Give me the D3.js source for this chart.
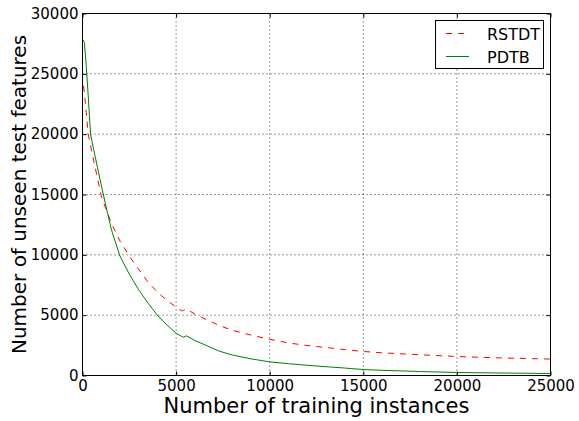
<!DOCTYPE html>
<html>
<head>
<meta charset="utf-8">
<script src="https://cdn.jsdelivr.net/npm/d3@7"></script>
<style>
  body { margin: 0; background: #fff; }
  svg { display: block; font-family: "DejaVu Sans", sans-serif; }
</style>
</head>
<body>
<svg id="chart" width="579" height="421"></svg>
<script>
// training set sizes (x axis)
const sizes = [50, 100, 200, 300, 430, 600, 800, 1000, 1250, 1550, 2000, 2500, 3000, 3500, 4000, 4500,
  5000, 5300, 5400, 5550, 6000, 6600, 7300, 8000, 9000, 10000, 11000, 12000, 13000, 14000, 15000,
  16000, 18000, 20000, 22000, 25000];

const rstdt = [24000, 23500, 21800, 20050, 19070, 17800, 16340, 14900, 13800, 12600, 11150, 9900, 8800, 7750, 6900, 6250,
  5660, 5360, 5400, 5500, 5100, 4640, 4150, 3750, 3350, 3000, 2700, 2480, 2320, 2150, 1990,
  1880, 1720, 1575, 1470, 1360];

const pdtb = [27800, 27600, 25700, 23300, 20000, 18700, 17250, 15800, 14040, 12050, 9900, 8400, 7100, 6000, 5000, 4200,
  3510, 3230, 3170, 3290, 2900, 2500, 2020, 1700, 1380, 1130, 980, 850, 730, 620, 490,
  430, 330, 250, 210, 166];

const xTicks = [0, 5000, 10000, 15000, 20000, 25000];
const yTicks = [0, 5000, 10000, 15000, 20000, 25000, 30000];

const series = [
  { name: 'RSTDT', values: rstdt, color: '#ff0000', dash: '6,6' },
  { name: 'PDTB', values: pdtb, color: '#008000', dash: null }
];

const svg = d3.select('#chart');
const plot = { left: 82.5, top: 13.5, right: 550.5, bottom: 375.5 };

const x = d3.scaleLinear().domain([0, 25000]).range([plot.left, plot.right]);
const y = d3.scaleLinear().domain([0, 30000]).range([plot.bottom, plot.top]);

// grid
const grid = svg.append('g').attr('stroke', '#000').attr('stroke-width', 0.8).attr('stroke-dasharray', '1,3');
xTicks.slice(1, -1).forEach(t => {
  grid.append('line').attr('x1', x(t)).attr('x2', x(t)).attr('y1', plot.top).attr('y2', plot.bottom);
});
yTicks.slice(1, -1).forEach(t => {
  grid.append('line').attr('x1', plot.left).attr('x2', plot.right).attr('y1', y(t)).attr('y2', y(t));
});

// lines
const line = d3.line().x((d, i) => x(sizes[i])).y(d => y(d));
series.forEach(s => {
  svg.append('path')
    .datum(s.values)
    .attr('d', line)
    .attr('fill', 'none')
    .attr('stroke', s.color)
    .attr('stroke-width', 1)
    .attr('stroke-dasharray', s.dash);
});

// axes (ticks inside, on all sides)
const fmt = d3.format('d');
svg.append('g').attr('transform', `translate(0,${plot.bottom})`)
  .call(d3.axisBottom(x).tickValues(xTicks).tickFormat(fmt).tickSizeInner(-4).tickSizeOuter(0).tickPadding(5));
svg.append('g').attr('transform', `translate(0,${plot.top})`)
  .call(d3.axisTop(x).tickValues(xTicks).tickFormat('').tickSizeInner(-4).tickSizeOuter(0));
svg.append('g').attr('transform', `translate(${plot.left},0)`)
  .call(d3.axisLeft(y).tickValues(yTicks).tickFormat(fmt).tickSizeInner(-4).tickSizeOuter(0).tickPadding(4));
svg.append('g').attr('transform', `translate(${plot.right},0)`)
  .call(d3.axisRight(y).tickValues(yTicks).tickFormat('').tickSizeInner(-4).tickSizeOuter(0));

svg.selectAll('.domain').remove();
svg.selectAll('.tick line').attr('stroke', '#000');
svg.selectAll('.tick text').attr('font-size', 15).attr('fill', '#000').attr('font-family', '"DejaVu Sans", sans-serif');

svg.append('rect')
  .attr('x', plot.left).attr('y', plot.top)
  .attr('width', plot.right - plot.left).attr('height', plot.bottom - plot.top)
  .attr('fill', 'none').attr('stroke', '#000').attr('stroke-width', 1);

// axis titles
svg.append('text')
  .attr('x', (plot.left + plot.right) / 2).attr('y', 413)
  .attr('text-anchor', 'middle').attr('font-size', 21)
  .text('Number of training instances');
svg.append('text')
  .attr('transform', `translate(26,${(plot.top + plot.bottom) / 2}) rotate(-90)`)
  .attr('text-anchor', 'middle').attr('font-size', 20)
  .text('Number of unseen test features');

// legend
const legend = svg.append('g');
legend.append('rect')
  .attr('x', 435.5).attr('y', 20.5).attr('width', 108).attr('height', 48)
  .attr('fill', '#fff').attr('stroke', '#000').attr('stroke-width', 1);
series.forEach((s, i) => {
  const ly = 33.5 + i * 23;
  legend.append('line')
    .attr('x1', 446).attr('x2', 469).attr('y1', ly).attr('y2', ly)
    .attr('stroke', s.color).attr('stroke-width', 1).attr('stroke-dasharray', s.dash);
  legend.append('text')
    .attr('x', 487).attr('y', ly + 6)
    .attr('font-size', 16).text(s.name);
});
</script>
</body>
</html>
